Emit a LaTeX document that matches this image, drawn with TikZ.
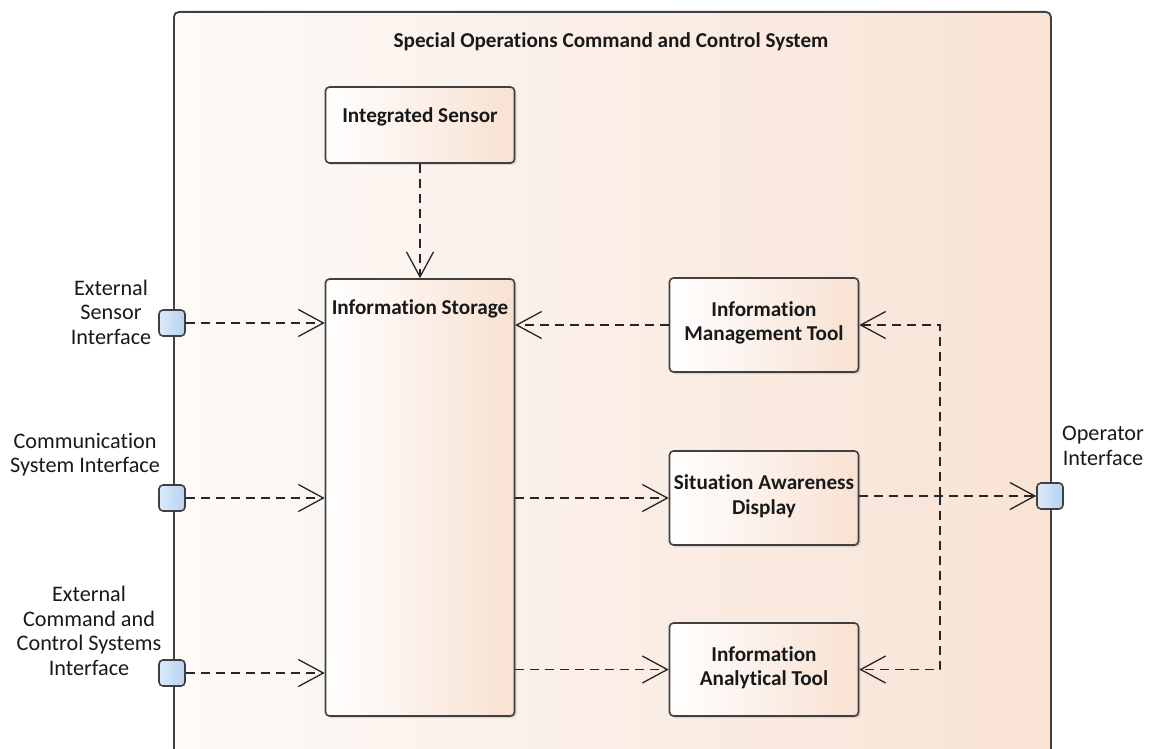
\documentclass[tikz,border=0pt]{standalone}
\usepackage{fontspec}
\setmainfont{Carlito}[Ligatures=NoCommon]
\usetikzlibrary{arrows.meta,shadows}

\definecolor{peach}{HTML}{F8E1D2}
\definecolor{paper}{HTML}{FDFAF8}
\definecolor{portlo}{HTML}{DCEAFA}
\definecolor{porthi}{HTML}{B6D2F1}
\definecolor{edge}{HTML}{404040}

\begin{document}
\begin{tikzpicture}[x=1pt,y=-1pt,
  every node/.style={inner sep=0pt, font=\fontsize{22.2}{24.5}\selectfont, text=black!90},
  system/.style={draw=edge, line width=1.8pt, rounded corners=5pt, left color=paper, right color=peach!95,
    anchor=north west},
  block/.style={draw=edge, line width=1.6pt, rounded corners=4pt, left color=white, right color=peach,
    minimum width=189pt, drop shadow={shadow xshift=2pt, shadow yshift=-2pt, opacity=0.25}},
  port/.style={draw=edge, line width=1.6pt, rounded corners=4pt, left color=portlo, right color=porthi,
    minimum size=26pt},
  title/.style={font=\fontsize{21.2}{24.5}\selectfont\bfseries, align=center},
  portlabel/.style={align=center},
  dep/.style={draw=black!85, line width=1.3pt, dash pattern=on 9pt off 6pt,
    -{Straight Barb[length=25pt,width=27pt,line width=1.3pt]}}]
\useasboundingbox (0,0) rectangle (1149,749);
\clip (0,0) rectangle (1149,749);
% frame
\node[system, minimum width=877pt, minimum height=800pt] (socs) at (173,11) {};
\node[title] (socstitle) at (611,42) {Special Operations Command and Control System};
% parts
\node[block, minimum height=76pt] (sensor) at (420,125) {};
\node[title] (sensortext) at ([yshift=-31pt]sensor.north) {Integrated Sensor};
\node[block, minimum height=437pt] (store) at (420,497.5) {};
\node[title] (storetext) at ([yshift=-31pt]store.north) {Information Storage};
\node[block, minimum height=94pt] (imt) at (764,325) {};
\node[title] at ([yshift=2pt]imt) {Information\\Management Tool};
\node[block, minimum height=94pt] (sad) at (764,498) {};
\node[title] at ([yshift=2pt]sad) {Situation Awareness\\Display};
\node[block, minimum height=93pt] (iat) at (764,669.5) {};
\node[title] at ([yshift=2pt]iat) {Information\\Analytical Tool};
% ports
\node[port] (esi) at (172,323) {};
\node[portlabel] at (111,312) {External\\Sensor\\Interface};
\node[port] (csi) at (172,498) {};
\node[portlabel] at (85,454.5) {Communication\\System Interface};
\node[port] (eccs) at (172,673) {};
\node[portlabel] at (89,631) {External\\Command and\\Control Systems\\Interface};
\node[port] (opi) at (1050,496) {};
\node[portlabel] at (1103,446) {Operator\\Interface};
\coordinate (split) at (940,496);
% connectors
\draw[dep] (sensor.south) -- (store.north);
\draw[dep] (esi.east) -- (esi -| store.west);
\draw[dep] (csi.east) -- (csi -| store.west);
\draw[dep] (eccs.east) -- (eccs -| store.west);
\draw[dep] (imt.west) -- (imt -| store.east);
\draw[dep] (store.east |- sad) -- (sad.west);
\draw[dep] (store.east |- iat) -- (iat.west);
\draw[dep] (sad.east |- opi) -- (opi.west);
\draw[dep] (split) |- (imt.east);
\draw[dep] (split) |- (iat.east);
\end{tikzpicture}
\end{document}
